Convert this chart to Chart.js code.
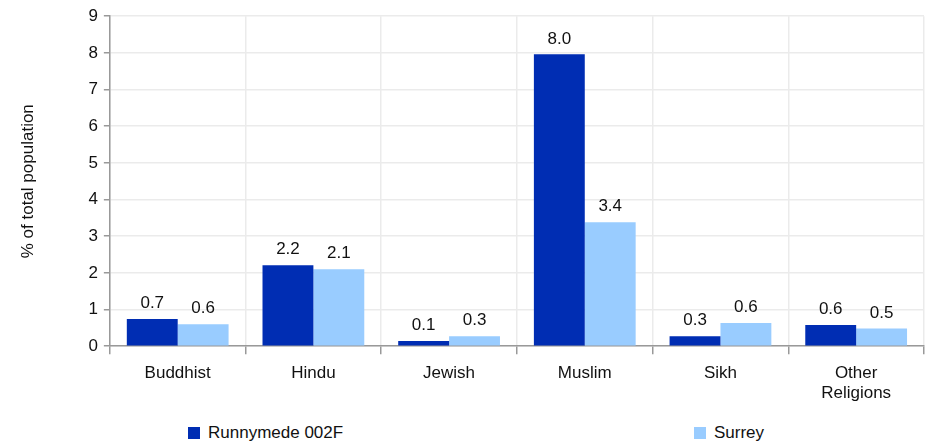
<!DOCTYPE html>
<html>
<head>
<meta charset="utf-8">
<script src="https://cdn.jsdelivr.net/npm/chart.js@4"></script>
<style>
  body { margin: 0; background: #fff; font-family: 'Liberation Sans', Arial, sans-serif; }
  #wrap { position: relative; width: 928px; height: 445px; }
  .leg { position: absolute; top: 423px; font-size: 17px; color: #111; display: flex; align-items: center; }
  .leg span.box { width: 12px; height: 12px; margin-right: 8px; display: inline-block; }
</style>
</head>
<body>
<div id="wrap">
  <canvas id="chart" width="928" height="413"></canvas>
  <div class="leg" style="left:188px"><span class="box" style="background:#002db3"></span>Runnymede 002F</div>
  <div class="leg" style="left:694px"><span class="box" style="background:#99ccff"></span>Surrey</div>
</div>
<script>
// datos
const categorias = ['Buddhist', 'Hindu', 'Jewish', 'Muslim', 'Sikh', ['Other', 'Religions']];
const runnymede = [0.74, 2.21, 0.14, 7.96, 0.27, 0.58];
const surrey = [0.6, 2.1, 0.27, 3.38, 0.63, 0.48];
const yTicks = [0, 1, 2, 3, 4, 5, 6, 7, 8, 9];

// etiquetas encima de cada barra
const barLabels = {
  id: 'barLabels',
  afterDatasetsDraw(chart) {
    const { ctx } = chart;
    ctx.save();
    ctx.font = '17px "Liberation Sans", Arial, sans-serif';
    ctx.fillStyle = '#111';
    ctx.textAlign = 'center';
    ctx.textBaseline = 'bottom';
    chart.data.datasets.forEach((ds, i) => {
      chart.getDatasetMeta(i).data.forEach((bar, j) => {
        ctx.fillText(ds.data[j].toFixed(1), bar.x, bar.y - 7);
      });
    });
    ctx.restore();
  }
};

Chart.defaults.font.family = '"Liberation Sans", Arial, sans-serif';
Chart.defaults.color = '#111';

new Chart(document.getElementById('chart'), {
  type: 'bar',
  data: {
    labels: categorias,
    datasets: [
      { label: 'Runnymede 002F', data: runnymede, backgroundColor: '#002db3', categoryPercentage: 0.75, barPercentage: 1 },
      { label: 'Surrey', data: surrey, backgroundColor: '#99ccff', categoryPercentage: 0.75, barPercentage: 1 }
    ]
  },
  options: {
    responsive: false,
    animation: false,
    layout: { padding: { left: 14, right: 4, top: 8, bottom: 0 } },
    plugins: { legend: { display: false }, tooltip: { enabled: false } },
    scales: {
      y: {
        min: 0, max: 9,
        afterBuildTicks: axis => { axis.ticks = yTicks.map(v => ({ value: v })); },
        ticks: { font: { size: 17 }, padding: 6, color: '#111' },
        grid: { color: '#ebebeb', lineWidth: 1.5, tickColor: '#999', tickLength: 6 },
        border: { color: '#999', width: 1.5 },
        title: { display: true, text: '% of total population', font: { size: 17 }, color: '#111', padding: { bottom: 44 } }
      },
      x: {
        ticks: { font: { size: 17 }, padding: 9, color: '#111' },
        grid: { offset: true, color: '#ebebeb', lineWidth: 1.5, tickColor: '#999', tickLength: 8 },
        border: { color: '#999', width: 1.5 }
      }
    }
  },
  plugins: [barLabels]
});
</script>
</body>
</html>
